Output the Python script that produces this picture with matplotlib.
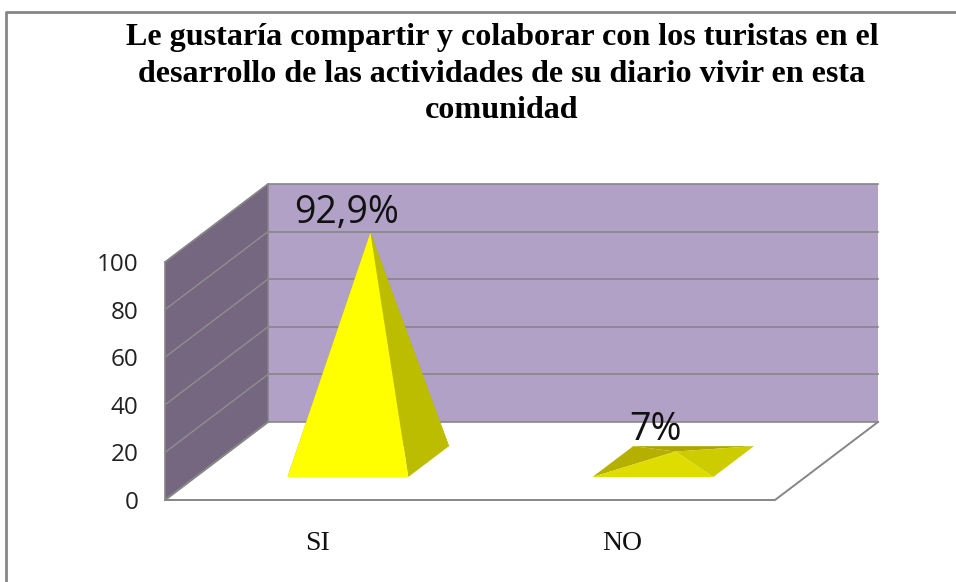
import matplotlib
matplotlib.use('Agg')
import matplotlib.pyplot as plt
from matplotlib.lines import Line2D

# Data
categories = ['SI', 'NO']
labels = ['92,9%', '7%']
heights = [96.2, 4.2]  # drawn height of each pyramid against the axis
y_ticks = [0, 20, 40, 60, 80, 100]
title = ('Le gustaría compartir y colaborar con los turistas en el\n'
         'desarrollo de las actividades de su diario vivir en esta\n'
         'comunidad')

# Fake 3D: full depth of the floor, in data units
DX = 0.338
DY = 32.8
# Pyramid footprint
HALF = 0.198
D0 = 0.295
D1 = 0.69


def proj(x, y, d):
    return x + d * DX, y + d * DY


def face(ax, pts, color, z, edge='none', lw=0):
    ax.fill([p[0] for p in pts], [p[1] for p in pts], facecolor=color,
            edgecolor=edge, linewidth=lw, zorder=z, clip_on=False)


fig = plt.figure(figsize=(9.56, 5.82), dpi=100, facecolor='white')
ax = fig.add_axes([165 / 956, 82 / 582, 610 / 956, 238 / 582])
ax.set_xlim(0, 2)
ax.set_ylim(0, 100)
ax.patch.set_visible(False)
for s in ax.spines.values():
    s.set_visible(False)

# Walls
grid = '#868686'
x_end = len(categories)
face(ax, [proj(0, 0, 1), proj(x_end, 0, 1), proj(x_end, 100, 1), proj(0, 100, 1)], '#B2A1C7', 1)
face(ax, [proj(0, 0, 0), proj(0, 0, 1), proj(0, 100, 1), proj(0, 100, 0)], '#75677F', 1)

for t in y_ticks:
    xs, ys = zip(proj(0, t, 1), proj(x_end, t, 1))
    ax.plot(xs, ys, color=grid, lw=1.2, zorder=2, clip_on=False)
    xs, ys = zip(proj(0, t, 0), proj(0, t, 1))
    ax.plot(xs, ys, color='#8F8F8F', lw=1.0, zorder=2, clip_on=False)

# Floor and wall edges
floor = [proj(0, 0, 1), proj(0, 0, 0), proj(x_end, 0, 0), proj(x_end, 0, 1)]
ax.plot([p[0] for p in floor], [p[1] for p in floor], color=grid, lw=1.4, zorder=3, clip_on=False)
xs, ys = zip(proj(0, 0, 0), proj(0, 100, 0))
ax.plot(xs, ys, color=grid, lw=1.2, zorder=3, clip_on=False)
xs, ys = zip(proj(0, 100, 0), proj(0, 100, 1), proj(0, 0, 1))
ax.plot(xs, ys, color=grid, lw=1.0, zorder=3, clip_on=False)

# Pyramids
shades = [
    {'front': '#FFFF00', 'right': '#BDBD00', 'left': '#B5B000', 'back': '#AFA500'},
    {'front': '#DEDC00', 'right': '#CCCC00', 'left': '#B5B000', 'back': '#AFA500'},
]
for i, (h, lab) in enumerate(zip(heights, labels)):
    c = i + 0.5
    fl = proj(c - HALF, 0, D0)
    fr = proj(c + HALF, 0, D0)
    bl = proj(c - HALF, 0, D1)
    br = proj(c + HALF, 0, D1)
    apex = proj(c + 0.007, h, (D0 + D1) / 2)
    col = shades[i]
    face(ax, [bl, br, apex], col['back'], 4)
    face(ax, [fl, bl, apex], col['left'], 4)
    face(ax, [fr, br, apex], col['right'], 5)
    face(ax, [fl, fr, apex], col['front'], 6)
    ax.annotate(lab, xy=apex, xytext=(-24 if i == 0 else -20, 1 if i == 0 else 3),
                textcoords='offset pixels', ha='center', va='bottom',
                fontsize=27, family='Open Sans', color='#111111', zorder=8,
                annotation_clip=False)

ax.set_yticks(y_ticks)
ax.set_xticks([i + 0.5 for i in range(len(categories))])
ax.set_xticklabels(categories, family='Liberation Serif', fontsize=20, color='#111111')
ax.tick_params(axis='both', length=0)
ax.tick_params(axis='y', pad=19, labelsize=17.5, labelcolor='#222222')
ax.tick_params(axis='x', pad=22)
for t in ax.get_yticklabels():
    t.set_family('Open Sans')

fig.text(502 / 956, 1 - 74 / 582, title, ha='center', va='center', multialignment='center',
         family='Liberation Serif', fontweight='bold', fontsize=23.1, linespacing=1.33, color='black')

# Chart frame
fig.add_artist(Line2D([6 / 956, 6 / 956, 1], [0, 1 - 12 / 582, 1 - 12 / 582], color='#868686', lw=2))

plt.savefig('out.png', dpi=100)
